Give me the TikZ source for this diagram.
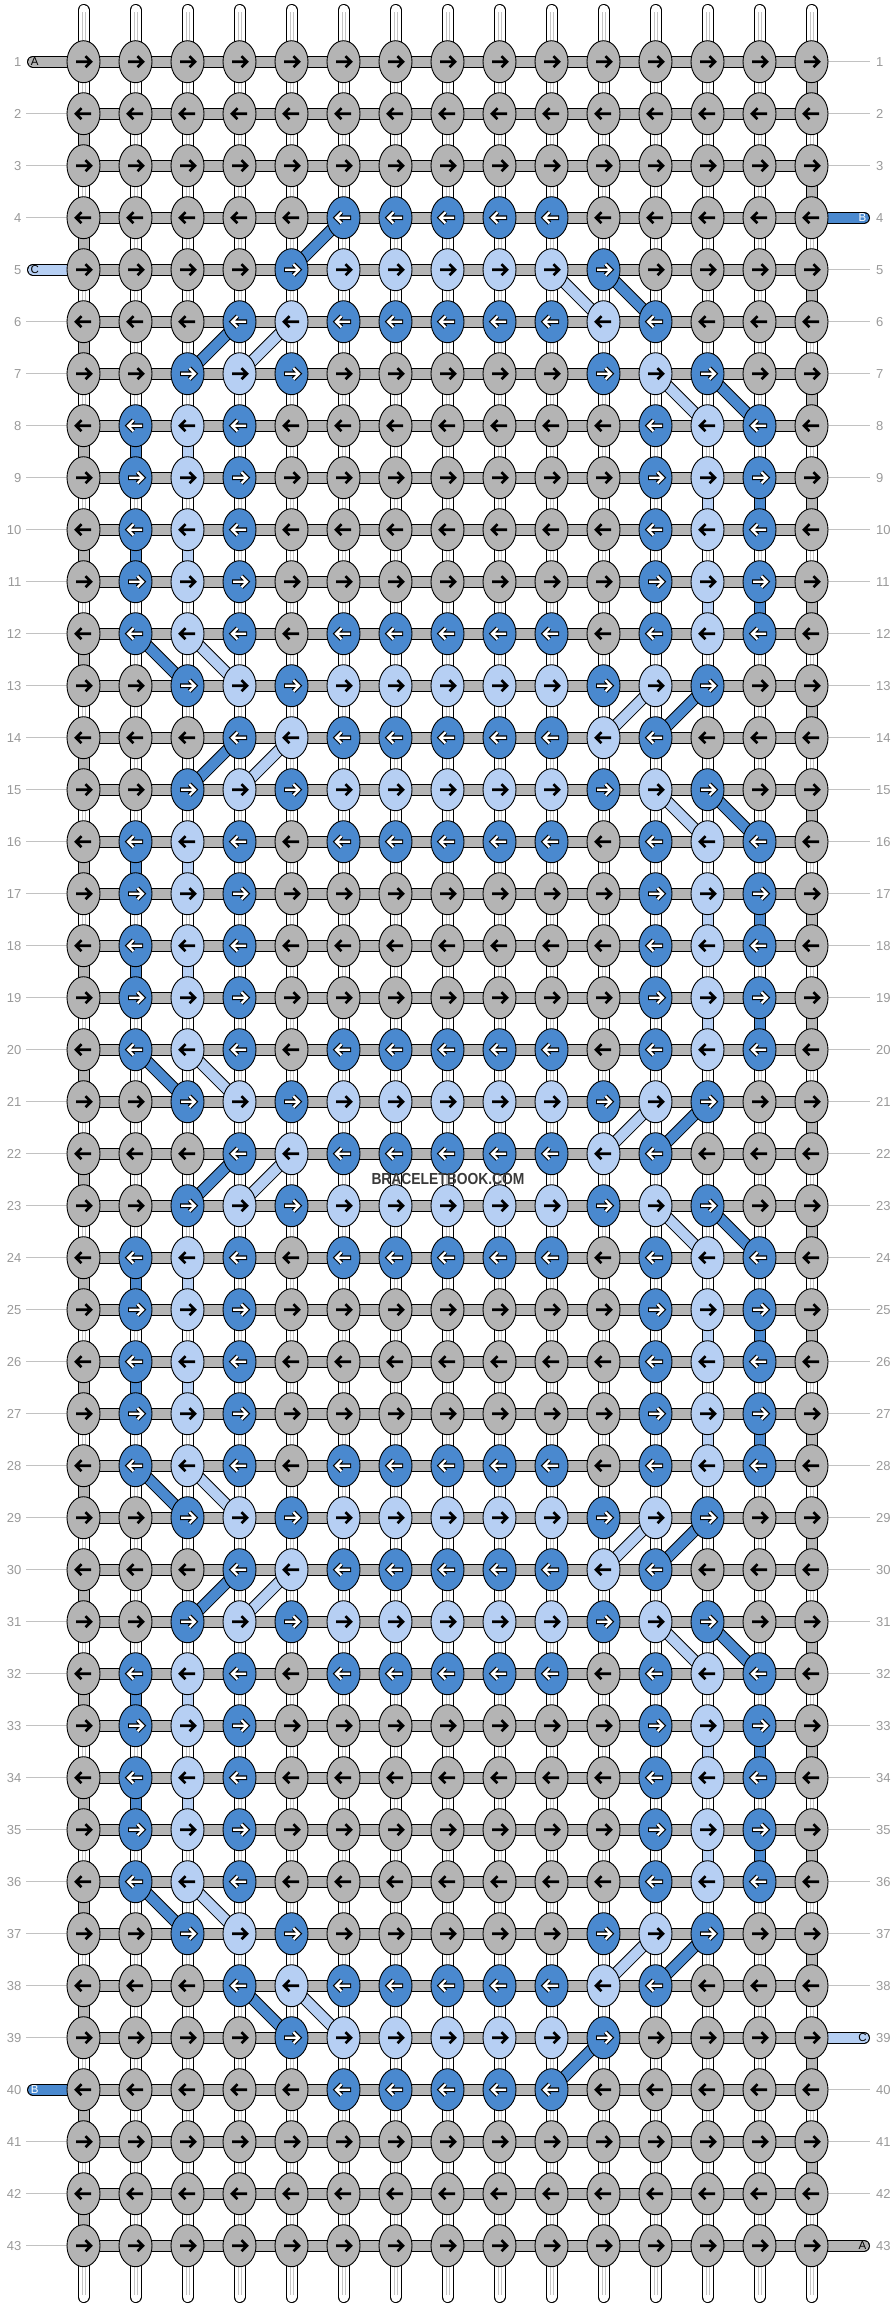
\documentclass[tikz,border=0pt]{standalone}
\usepackage{fontspec}
\setmainfont{Liberation Sans}
\usetikzlibrary{shapes.geometric}
\pgfdeclarelayer{bgw}
\pgfdeclarelayer{vs}
\pgfdeclarelayer{hb}
\pgfdeclarelayer{seg}
\pgfsetlayers{bgw,vs,hb,seg,main}
\definecolor{cG}{HTML}{B4B4B4}
\definecolor{cD}{HTML}{4A89CF}
\definecolor{cL}{HTML}{B6CFF3}
\definecolor{labc}{HTML}{9A9A9A}
\definecolor{rulec}{HTML}{C2C2C2}
\definecolor{midc}{HTML}{C4C4C4}
\definecolor{wmc}{HTML}{3A3A3A}
% knot colour patterns, one entry per column
\def\bbG{G,G,G,G,G,G,G,G,G,G,G,G,G,G,G}
\def\bbA{G,G,G,G,G,D,D,D,D,D,G,G,G,G,G}
\def\bbB{G,G,G,G,D,L,L,L,L,L,D,G,G,G,G}
\def\bbC{G,G,G,D,L,D,D,D,D,D,L,D,G,G,G}
\def\bbD{G,G,D,L,D,G,G,G,G,G,D,L,D,G,G}
\def\bbE{G,D,L,D,G,G,G,G,G,G,G,D,L,D,G}
\def\bbF{G,D,L,D,G,D,D,D,D,D,G,D,L,D,G}
\def\bbH{G,G,D,L,D,L,L,L,L,L,D,L,D,G,G}
\tikzset{
  knot/.style={ellipse, draw=black, line width=0.9pt, minimum width=33pt, minimum height=42pt, inner sep=0pt},
  hbar/.style={draw=black, line width=1pt, double=cG, double distance=10pt},
  vstr/.style={draw=black, line width=1pt, double=white, double distance=10pt, line cap=round},
  midln/.style={draw=midc, line width=0.8pt},
  segline/.style={draw=black, line width=1pt, double=#1, double distance=10pt},
  endstr/.style={draw=black, line width=1pt, double=#1, double distance=10pt, line cap=round},
  ruleln/.style={draw=rulec, line width=1pt},
  lbl/.style={text=labc, inner sep=0pt, font=\fontsize{13}{13}\selectfont},
  endlbl/.style={inner sep=0pt, font=\fontsize{11.5}{11.5}\selectfont},
  arrblk/.style={draw=black, line width=2.6pt},
  arrout/.style={draw=black, line width=4.6pt},
  arrin/.style={draw=white, line width=2.2pt},
  arrRG/.pic={\path[arrblk] (-7.5,0)--(7,0) (2,5.5)--(7.5,0)--(2,-5.5);},
  arrRL/.pic={\path[arrblk] (-7.5,0)--(7,0) (2,5.5)--(7.5,0)--(2,-5.5);},
  arrRD/.pic={\path[arrout] (-7.5,0)--(7,0) (2,5.5)--(7.5,0)--(2,-5.5);
              \path[arrin] (-6.5,0)--(7,0) (2,5.5)--(7.5,0)--(2,-5.5);},
  arrLG/.pic={\path[arrblk] (7.5,0)--(-7,0) (-2,5.5)--(-7.5,0)--(-2,-5.5);},
  arrLL/.pic={\path[arrblk] (7.5,0)--(-7,0) (-2,5.5)--(-7.5,0)--(-2,-5.5);},
  arrLD/.pic={\path[arrout] (7.5,0)--(-7,0) (-2,5.5)--(-7.5,0)--(-2,-5.5);
              \path[arrin] (6.5,0)--(-7,0) (-2,5.5)--(-7.5,0)--(-2,-5.5);},
}
\begin{document}
\begin{tikzpicture}[x=1pt,y=1pt]
\useasboundingbox (0,0) rectangle (896,-2308);
\begin{pgfonlayer}{bgw}
\fill[white] (0,0) rectangle (896,-2308);
\end{pgfonlayer}
% ---------- knots ----------
\foreach \kr/\kp in {1/G,2/G,3/G,4/A,5/B,6/C,7/D,8/E,9/E,10/E,11/E,12/F,13/H,14/C,15/H,16/F,17/E,18/E,19/E,20/F,21/H,22/C,23/H,24/F,25/E,26/E,27/E,28/F,29/H,30/C,31/H,32/F,33/E,34/E,35/E,36/E,37/D,38/C,39/B,40/A,41/G,42/G,43/G}{
  \edef\plist{\csname bb\kp\endcsname}
  \ifodd\kr\relax \def\dir{R}\else \def\dir{L}\fi
  \foreach \col [count=\kc] in \plist {
    \edef\tmp{\noexpand\node[knot, fill=c\col] (k-\kr-\kc) at ({83.5+52*(\kc-1)},{-61.7-52*(\kr-1)}) {};
      \noexpand\pic at (k-\kr-\kc) {arr\dir\col};}
    \tmp
  }
  \node[lbl, anchor=east] (ln-\kr) at (21.5,{-61.7-52*(\kr-1)}) {\kr};
  \node[lbl, anchor=west] (rn-\kr) at (876,{-61.7-52*(\kr-1)}) {\kr};
}
% ---------- vertical strings ----------
\begin{pgfonlayer}{vs}
\foreach \kc in {1,...,15}{
  \coordinate (top-\kc) at ({83.5+52*(\kc-1)},-10);
  \coordinate (bot-\kc) at ({83.5+52*(\kc-1)},-2297);
  \draw[vstr] (top-\kc) -- (bot-\kc);
  \draw[midln, shorten <=2pt, shorten >=2pt] ([xshift=-1.4pt]top-\kc) -- ([xshift=-1.4pt]bot-\kc);
  \draw[midln, shorten <=2pt, shorten >=2pt] ([xshift=1.4pt]top-\kc) -- ([xshift=1.4pt]bot-\kc);
}
\end{pgfonlayer}
% ---------- horizontal strings, label rules, string ends ----------
\begin{pgfonlayer}{hb}
\foreach \kr in {2,3,4,6,7,...,39,41,42,43}{
  \coordinate (ll-\kr) at (26,{-61.7-52*(\kr-1)});
  \draw[ruleln] (ll-\kr) -- (k-\kr-1.center);
}
\foreach \kr in {1,2,3,5,6,...,38,40,41,42}{
  \coordinate (rl-\kr) at (870,{-61.7-52*(\kr-1)});
  \draw[ruleln] (k-\kr-15.center) -- (rl-\kr);
}
\foreach \kr in {1,...,43}{
  \draw[hbar] (k-\kr-1.center) -- (k-\kr-15.center);
}
\coordinate (eA-l) at (33,-61.7);
\coordinate (eC-l) at (33,-269.7);
\coordinate (eB-l) at (33,-2089.7);
\coordinate (eB-r) at (864,-217.7);
\coordinate (eC-r) at (864,-2037.7);
\coordinate (eA-r) at (864,-2245.7);
\draw[endstr=cG] (eA-l) -- (k-1-1.center);
\draw[endstr=cL] (eC-l) -- (k-5-1.center);
\draw[endstr=cD] (eB-l) -- (k-40-1.center);
\draw[endstr=cD] (k-4-15.center) -- (eB-r);
\draw[endstr=cL] (k-39-15.center) -- (eC-r);
\draw[endstr=cG] (k-43-15.center) -- (eA-r);
\end{pgfonlayer}
\node[endlbl, text=black] (tA-l) at (34.8,-61.7) {A};
\node[endlbl, text=black] (tC-l) at (34.8,-269.7) {C};
\node[endlbl, text=white] (tB-l) at (34.8,-2089.7) {B};
\node[endlbl, text=white] (tB-r) at (862.5,-217.7) {B};
\node[endlbl, text=black] (tC-r) at (862.5,-2037.7) {C};
\node[endlbl, text=black] (tA-r) at (862.5,-2245.7) {A};
% ---------- coloured turns and diagonals ----------
\begin{pgfonlayer}{seg}
\foreach \kr [evaluate=\kr as \kn using int(\kr+1)] in {2,4,...,42}{
  \draw[segline=cG] (k-\kr-1.center) -- (k-\kn-1.center);
}
\foreach \kr [evaluate=\kr as \kn using int(\kr+1)] in {1,3,...,41}{
  \draw[segline=cG] (k-\kr-15.center) -- (k-\kn-15.center);
}
\foreach \kr [evaluate=\kr as \kn using int(\kr+1)] in {8,10,16,18,24,26,32,34}{
  \draw[segline=cD] (k-\kr-2.center) -- (k-\kn-2.center);
  \draw[segline=cL] (k-\kr-3.center) -- (k-\kn-3.center);
}
\foreach \kr [evaluate=\kr as \kn using int(\kr+1)] in {9,11,17,19,25,27,33,35}{
  \draw[segline=cL] (k-\kr-13.center) -- (k-\kn-13.center);
  \draw[segline=cD] (k-\kr-14.center) -- (k-\kn-14.center);
}
\foreach \ra/\ca/\rb/\cb/\cl in {
  4/6/5/5/cD,
  5/10/6/11/cL, 5/11/6/12/cD,
  6/4/7/3/cD, 6/5/7/4/cL,
  7/12/8/13/cL, 7/13/8/14/cD,
  12/2/13/3/cD, 12/3/13/4/cL,
  13/12/14/11/cL, 13/13/14/12/cD,
  14/4/15/3/cD, 14/5/15/4/cL,
  15/12/16/13/cL, 15/13/16/14/cD,
  20/2/21/3/cD, 20/3/21/4/cL,
  21/12/22/11/cL, 21/13/22/12/cD,
  22/4/23/3/cD, 22/5/23/4/cL,
  23/12/24/13/cL, 23/13/24/14/cD,
  28/2/29/3/cD, 28/3/29/4/cL,
  29/12/30/11/cL, 29/13/30/12/cD,
  30/4/31/3/cD, 30/5/31/4/cL,
  31/12/32/13/cL, 31/13/32/14/cD,
  36/2/37/3/cD, 36/3/37/4/cL,
  37/12/38/11/cL, 37/13/38/12/cD,
  38/4/39/5/cD, 38/5/39/6/cL,
  39/11/40/10/cD}{
  \draw[segline=\cl] (k-\ra-\ca.center) -- (k-\rb-\cb.center);
}
\end{pgfonlayer}
% ---------- watermark ----------
\node[text=wmc, inner sep=0pt] (wmark) at (448,-1179)
  {\scalebox{0.865}[1]{\fontsize{16}{16}\selectfont\bfseries BRACELETBOOK.COM}};
\end{tikzpicture}
\end{document}
